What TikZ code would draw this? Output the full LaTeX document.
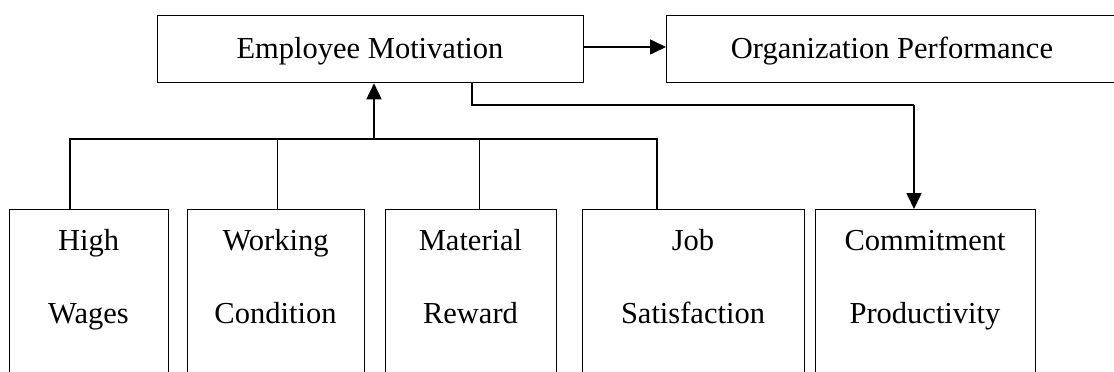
\documentclass[tikz,border=0pt]{standalone}
\usepackage{fontspec}
\setmainfont{Liberation Serif}
\usetikzlibrary{arrows.meta}
\begin{document}
\begin{tikzpicture}[x=1pt,y=-1pt,
  box/.style={draw,line width=1.3pt,rectangle,inner sep=0pt,anchor=north west},
  txt/.style={anchor=base,inner sep=0pt,font=\fontsize{30.5}{36}\selectfont},
  tree/.style={line width=1.3pt},
  arr/.style={line width=1.7pt,-{Triangle[length=16pt,width=15pt]}}]
\useasboundingbox (0,0) rectangle (1114,372);
% top boxes
\node[box,minimum width=426pt,minimum height=67pt] (em) at (157,15) {};
\node[box,minimum width=452pt,minimum height=67pt] (op) at (666,15) {};
\node[txt] (emt) at (370,58) {Employee Motivation};
\node[txt] (opt) at (892,58) {Organization Performance};
% bottom boxes
\node[box,minimum width=159pt,minimum height=175pt] (hw) at (9,209) {};
\node[box,minimum width=177pt,minimum height=175pt] (wc) at (187,209) {};
\node[box,minimum width=171pt,minimum height=175pt] (mr) at (385,209) {};
\node[box,minimum width=222pt,minimum height=175pt] (js) at (582,209) {};
\node[box,minimum width=220pt,minimum height=175pt] (cp) at (815,209) {};
\node[txt] (hw1) at (88.5,250) {High};
\node[txt] (hw2) at (88.5,323) {Wages};
\node[txt] (wc1) at (275.5,250) {Working};
\node[txt] (wc2) at (275.5,323) {Condition};
\node[txt] (mr1) at (470.5,250) {Material};
\node[txt] (mr2) at (470.5,323) {Reward};
\node[txt] (js1) at (693,250) {Job};
\node[txt] (js2) at (693,323) {Satisfaction};
\node[txt] (cp1) at (925,250) {Commitment};
\node[txt] (cp2) at (925,323) {Productivity};
% connectors
\coordinate (busL) at (70,139);
\coordinate (busR) at (657,139);
\coordinate (busM) at (374,139);
\coordinate (busW) at (277.5,139);
\coordinate (busT) at (479.5,139);
\draw[tree] (hw.north west -| busL) -- (busL) -- (busR) -- (js.north west -| busR);
\draw[tree] (wc.north west -| busW) -- (busW);
\draw[tree] (mr.north west -| busT) -- (busT);
\draw[arr] (busM) -- (em.south west -| busM);
\draw[arr] (em.east |- 0,47) -- (op.west |- 0,47);
\coordinate (k1) at (472,105);
\coordinate (k2) at (914,105);
\draw[tree] (em.south west -| k1) -- (k1) -- (k2);
\draw[arr] (k2) -- (cp.north west -| k2);
\end{tikzpicture}
\end{document}
